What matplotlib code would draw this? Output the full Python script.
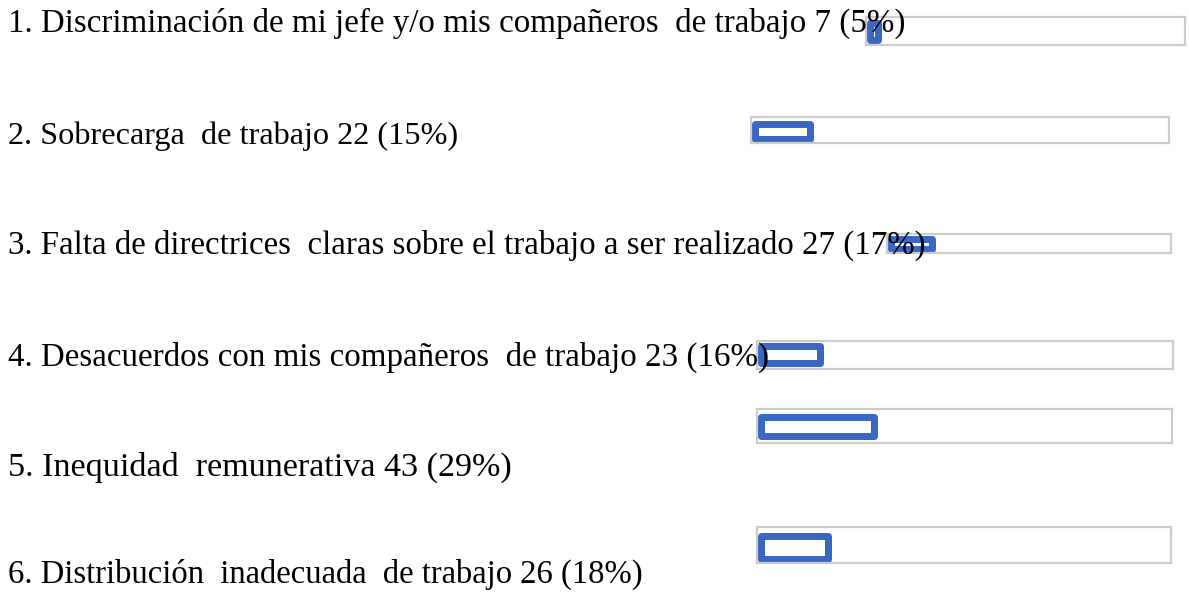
import matplotlib
matplotlib.use("Agg")
import matplotlib.pyplot as plt

# data
labels = ["1. Discriminación de mi jefe y/o mis compañeros  de trabajo",
          "2. Sobrecarga  de trabajo",
          "3. Falta de directrices  claras sobre el trabajo a ser realizado",
          "4. Desacuerdos con mis compañeros  de trabajo",
          "5. Inequidad  remunerativa",
          "6. Distribución  inadecuada  de trabajo"]
counts = [7, 22, 27, 23, 43, 26]
percents = [5, 15, 17, 16, 29, 18]

# layout (pixels): track box, bar outline, text baseline and size per row
W, H = 1189, 595
track_x0 = [866, 751, 887, 757, 757, 757]
track_x1 = [1185, 1169, 1171, 1173, 1172, 1171]
track_y0 = [17, 117, 234, 341, 409, 527]
track_y1 = [45, 143, 253, 369, 443, 563]
bar_y0 = [20, 120, 235, 342, 413, 532]
bar_y1 = [43, 142, 252, 366, 439, 562]
text_base = [32, 144, 254, 366, 476, 583]
text_size = [23.8, 23.2, 23.7, 23.8, 24.6, 23.5]

blue = "#3867c4"
gray = "#cccccc"
lw_px = 7.0

fig = plt.figure(figsize=(W / 100, H / 100), dpi=100)

for i in range(len(labels)):
    x0, x1, y0, y1 = track_x0[i], track_x1[i], track_y0[i], track_y1[i]
    tw, th = x1 - x0, y1 - y0
    ax = fig.add_axes([x0 / W, 1 - y1 / H, tw / W, th / H])
    ax.set_xlim(0, 100)
    ax.set_ylim(0, 1)
    ax.set_xticks([])
    ax.set_yticks([])
    for sp in ax.spines.values():
        sp.set_color(gray)
        sp.set_linewidth(1.6)
    # keep the stroke inside the bar's extent
    hw = lw_px / 2 / tw * 100
    hh = lw_px / 2 / th
    top = (y1 - bar_y0[i]) / th - hh
    bot = (y1 - bar_y1[i]) / th + hh
    ax.barh((top + bot) / 2, max(percents[i] - 2 * hw, 0.3), left=hw,
            height=top - bot, facecolor="white", edgecolor=blue,
            linewidth=lw_px * 72 / 100, joinstyle="round", clip_on=False)

for i in range(len(labels)):
    fig.text(8 / W, 1 - text_base[i] / H,
             f"{labels[i]} {counts[i]} ({percents[i]}%)",
             fontsize=text_size[i], family="Liberation Serif",
             va="baseline", ha="left", color="black", zorder=5)

fig.savefig("out.png", dpi=100)
